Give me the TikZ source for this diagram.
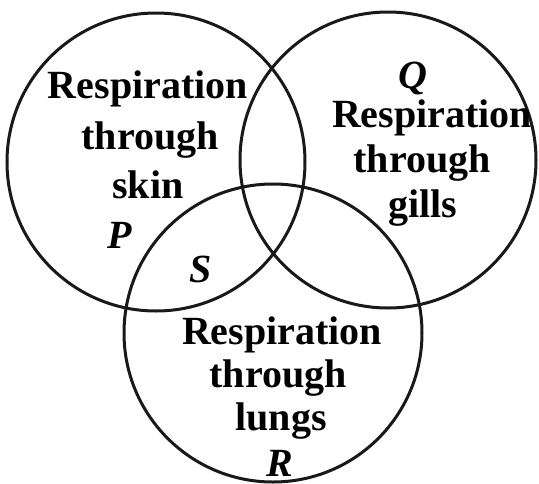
\documentclass[tikz,border=0pt]{standalone}
\usepackage{fontspec}
\setmainfont{Liberation Serif}
\begin{document}
\begin{tikzpicture}[x=1pt,y=-1pt,
  ring/.style={circle,draw=black!90,line width=3pt,inner sep=0pt},
  word/.style={font=\fontsize{40}{46}\selectfont\bfseries,anchor=base,inner sep=0pt},
  letter/.style={font=\fontsize{40}{46}\selectfont\bfseries\itshape,anchor=base,inner sep=0pt}]
\useasboundingbox (0,0) rectangle (539,483);
\node[ring,minimum size=298pt] (L) at (156,162) {};
\node[ring,minimum size=296pt] (Rt) at (388,160) {};
\node[ring,minimum size=298pt] (B) at (273,333) {};
% left
\node[word] (l1) at (148,98) {Respiration};
\node[word] (l2) at (150,149) {through};
\node[word] (l3) at (148,198) {skin};
\node[letter] (lp) at (120,248) {P};
% right
\node[letter] (rq) at (413,88) {Q};
\node[word] (r1) at (432,127) {Respiration};
\node[word] (r2) at (422,172) {through};
\node[word] (r3) at (423,217) {gills};
% S
\node[letter] (s) at (201,282) {S};
% bottom
\node[word] (b1) at (282,344) {Respiration};
\node[word] (b2) at (278,387) {through};
\node[word] (b3) at (281,430) {lungs};
\node[letter] (br) at (280,476) {R};
\end{tikzpicture}
\end{document}
